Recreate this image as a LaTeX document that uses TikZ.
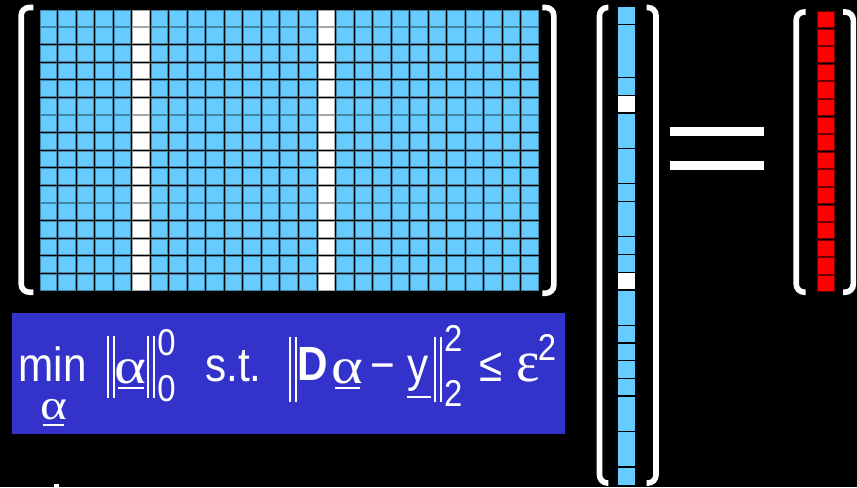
\documentclass[tikz,border=0pt]{standalone}
\usepackage{fontspec}
\newfontfamily\eqsans{Liberation Sans}[FakeStretch=0.88]
\newfontfamily\eqgreek{Liberation Serif}[FakeStretch=1.2]
\newfontfamily\eqeps{Liberation Serif}[FakeStretch=0.95]
\definecolor{cellblue}{HTML}{66CCFF}
\definecolor{boxblue}{HTML}{3333CC}
\begin{document}
\begin{tikzpicture}[x=0.75pt,y=-0.75pt,
  bracket/.style={draw=white,line width=4.2pt,rounded corners=6pt},
  txt/.style={text=white,inner sep=0pt,anchor=base},
  main/.style={txt,font=\eqsans\fontsize{36}{40}\selectfont},
  mainbold/.style={txt,font=\eqsans\bfseries\fontsize{36}{40}\selectfont},
  scr/.style={txt,font=\eqsans\fontsize{28}{30}\selectfont},
  grk/.style={txt,font=\eqgreek\fontsize{38}{40}\selectfont},
  grksmall/.style={txt,font=\eqgreek\fontsize{32}{34}\selectfont},
  epsstyle/.style={txt,font=\eqeps\fontsize{44}{46}\selectfont},
  normbar/.style={draw=white,line width=1.5pt},
  uline/.style={draw=white,line width=1.5pt}]
\fill[black] (0,0) rectangle (857,487);
\useasboundingbox (0,0) rectangle (857,487);
% matrix D
\foreach \i in {0,...,26}{
  \ifnum\i=5 \def\cc{white}\else\ifnum\i=15 \def\cc{white}\else\def\cc{cellblue}\fi\fi
  \foreach \j in {0,...,15}{
    \filldraw[fill=\cc,draw=\cc!65!black,line width=0.4pt] ({40+\i*18.52},{10+\j*17.6}) rectangle ++(16.5,15.9);
  }
}
% sparse vector alpha
\fill[cellblue] (617.7,6.7) rectangle (635,484.6);
\foreach \k in {5,15} \fill[white] (617.7,{6.7+\k*17.7}) rectangle (635,{6.7+(\k+1)*17.7});
\foreach \k in {1,4,5,6,8,10,11,13,14,15,16,18,19,20,21,22,24,26}
  \draw[black,line width=1pt] (617.7,{6.7+\k*17.7}) -- (635,{6.7+\k*17.7});
% red vector y
\foreach \j in {0,...,15}
  \filldraw[fill=red,draw=black!60!red,line width=0.6pt] (817.7,{11.3+\j*17.6}) rectangle ++(16.3,16.2);
% brackets
\draw[bracket] (33.3,7.5) -- (21.2,7.5) -- (21.2,292.2) -- (33.3,292.2);
\draw[bracket] (542.3,7.5) -- (553.8,7.5) -- (553.8,293.2) -- (542.3,293.2);
\draw[bracket] (608.3,7.5) -- (599.5,7.5) -- (599.5,483) -- (608.3,483);
\draw[bracket] (646.7,7.5) -- (656,7.5) -- (656,483) -- (646.7,483);
\draw[bracket] (805.7,12) -- (796.2,12) -- (796.2,292.2) -- (805.7,292.2);
\draw[bracket] (843,12) -- (853.3,12) -- (853.3,292.2) -- (843,292.2);
% equals sign
\fill[white] (670,127.3) rectangle (764,136);
\fill[white] (670,160.7) rectangle (764,170);
% formula box
\fill[boxblue] (12,312.7) rectangle (565,434);
\node[main] (fmin) at (52.8,381.7) {min};
\node[grksmall] (fa0) at (53.5,419) {α};
\draw[uline] (42.7,425) -- (64.3,425);
\draw[normbar] (107.7,336) -- (107.7,398.3);
\draw[normbar] (114.3,336) -- (114.3,398.3);
\node[grk] (fa1) at (130.5,383) {α};
\draw[uline] (118.3,388.3) -- (144,388.3);
\draw[normbar] (147.7,336) -- (147.7,398.3);
\draw[normbar] (153.7,336) -- (153.7,398.3);
\node[scr] (fs0) at (166.5,355) {0};
\node[scr] (fb0) at (166.5,401.7) {0};
\node[main] (fst) at (233.3,381.7) {s.t.};
\draw[normbar] (289.5,336.7) -- (289.5,401.7);
\draw[normbar] (296,336.7) -- (296,401.7);
\node[mainbold] (fD) at (312.5,380) {D};
\node[grk] (fa2) at (347.5,383) {α};
\draw[uline] (335,388.3) -- (360,388.3);
\node[main] (fminus) at (382.5,381.7) {−};
\node[main] (fy) at (418.3,381.7) {y};
\draw[uline] (407.3,396.7) -- (430.7,396.7);
\draw[normbar] (435,336.7) -- (435,401.7);
\draw[normbar] (441,336.7) -- (441,401.7);
\node[scr] (fs2) at (453.3,351.7) {2};
\node[scr] (fb2) at (453.3,406.7) {2};
\node[main] (fle) at (490.8,381.7) {≤};
\node[epsstyle] (feps) at (528,381) {ε};
\node[scr] (fe2) at (547,360) {2};
% cut-off fragment at bottom edge
\fill[white] (54.3,484.3) rectangle (59.3,487);
\end{tikzpicture}
\end{document}
